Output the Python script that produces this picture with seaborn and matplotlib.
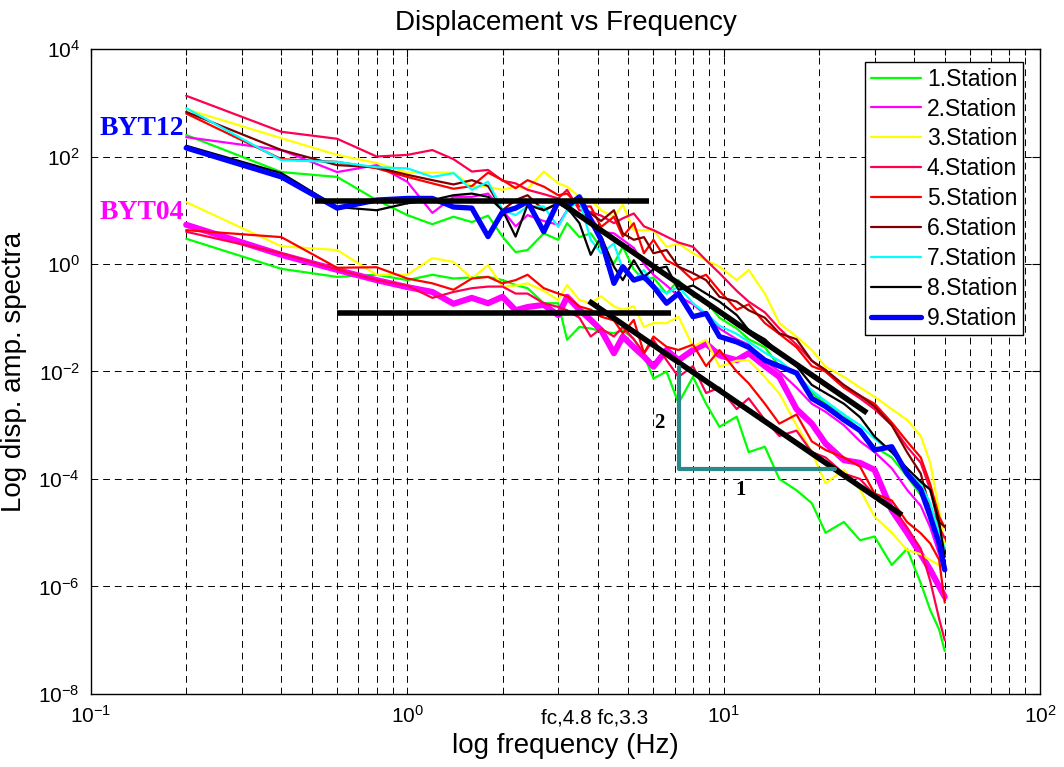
import numpy as np
import matplotlib.pyplot as plt
import seaborn as sns
from matplotlib.ticker import FixedLocator, NullLocator, NullFormatter
import matplotlib.transforms as mtransforms

# frekanslar (Hz)
freq = [0.2, 0.4, 0.6, 0.8, 1.0, 1.2, 1.4, 1.6, 1.8, 2.0, 2.2, 2.4, 2.7, 3.0, 3.2,
        3.5, 3.8, 4.1, 4.5, 4.8, 5.2, 5.6, 6.0, 6.6, 7.2, 8.0, 8.8, 9.7, 11, 12,
        13.5, 15, 17, 19, 21, 24, 27, 30, 34, 38, 42, 45, 48, 50]

# log10 displacement spectra, BYT12 event
byt12_st1 = [2.40, 1.71, 1.62, 1.19, 0.91, 0.74, 0.88, 0.78, 0.90, 0.51, 0.22, 0.26, 0.57, 0.45, 0.76,
             0.50, 0.57, 0.30, 0.01, 0.32, -0.10, -0.30, -0.25, -0.55, -0.30, -0.60, -0.70, -1.00, -1.20, -1.40,
             -1.55, -1.90, -2.05, -2.40, -2.60, -2.80, -3.10, -3.40, -3.60, -3.95, -4.30, -4.50, -5.00, -5.30]
byt12_st2 = [2.36, 2.12, 1.71, 1.84, 1.53, 0.95, 1.25, 1.25, 1.31, 1.00, 0.70, 0.91, 0.80, 0.73, 1.00,
             0.90, 0.88, 0.60, 0.57, 0.45, 0.30, 0.00, -0.20, -0.40, -0.60, -0.75, -0.95, -1.20, -1.40, -1.50,
             -1.80, -2.00, -2.30, -2.60, -2.75, -3.00, -3.30, -3.50, -3.80, -4.20, -4.50, -4.90, -5.40, -5.70]
byt12_st3 = [2.88, 2.34, 2.03, 1.88, 1.70, 1.70, 1.70, 1.44, 1.44, 1.38, 1.44, 1.40, 1.72, 1.50, 1.44,
             1.25, 1.19, 1.00, 0.88, 1.10, 0.63, 0.63, 0.63, 0.32, 0.38, 0.20, 0.07, -0.05, -0.30, -0.11,
             -0.55, -1.10, -1.35, -1.60, -1.91, -2.10, -2.30, -2.47, -2.70, -2.90, -3.20, -3.70, -4.60, -5.20]
byt12_st4 = [3.13, 2.46, 2.33, 2.00, 2.03, 2.12, 1.95, 1.72, 1.75, 1.55, 1.50, 1.38, 1.30, 1.22, 1.38,
             1.00, 0.97, 0.90, 0.76, 0.85, 0.94, 0.70, 0.63, 0.51, 0.40, 0.32, 0.07, -0.17, -0.50, -0.70,
             -0.90, -1.20, -1.50, -1.80, -2.00, -2.30, -2.50, -2.70, -3.00, -3.40, -3.70, -4.20, -4.90, -5.10]
byt12_st5 = [2.80, 1.95, 1.90, 1.78, 1.62, 1.50, 1.40, 1.45, 1.70, 1.56, 1.41, 1.56, 1.44, 1.28, 1.31,
             1.07, 1.07, 0.69, 0.88, 0.51, 0.76, 0.20, 0.45, 0.07, -0.05, -0.30, -0.20, -0.50, -0.85, -0.75,
             -1.10, -1.30, -1.55, -1.90, -2.00, -2.30, -2.45, -2.60, -2.95, -3.30, -3.60, -4.10, -4.70, -4.90]
byt12_st6 = [2.83, 2.12, 1.84, 1.80, 1.66, 1.56, 1.48, 1.56, 1.45, 1.00, 1.19, 1.28, 1.00, 1.13, 1.10,
             0.88, 0.94, 0.80, 1.00, 0.57, 0.45, 0.50, 0.20, 0.26, -0.05, -0.17, -0.30, -0.61, -0.70, -0.86,
             -1.00, -1.29, -1.40, -1.80, -1.97, -2.25, -2.45, -2.65, -3.00, -3.50, -3.90, -4.58, -4.80, -4.89]
byt12_st7 = [2.90, 1.93, 1.90, 1.80, 1.78, 1.62, 1.69, 1.38, 1.53, 1.00, 0.91, 1.07, 1.07, 0.69, 1.00,
             1.19, 0.45, 0.20, 0.38, -0.10, -0.30, -0.11, -0.40, -0.55, -0.42, -0.73, -0.92, -1.15, -1.30, -1.45,
             -1.65, -1.80, -2.05, -2.35, -2.55, -2.80, -3.00, -3.25, -3.50, -3.85, -4.10, -4.45, -5.00, -5.30]
byt12_st8 = [2.20, 1.69, 1.06, 1.00, 1.13, 1.19, 1.28, 1.31, 1.25, 1.00, 0.51, 1.10, 1.00, 1.13, 1.05,
             0.76, 0.17, 0.51, -0.05, -0.30, 0.07, -0.24, -0.10, -0.05, -0.48, -0.40, -0.55, -0.70, -0.95, -1.23,
             -1.40, -1.66, -1.90, -2.25, -2.40, -2.60, -2.85, -3.21, -3.50, -3.80, -4.05, -4.20, -4.80, -5.45]
byt12_st9 = [2.16, 1.62, 1.04, 1.19, 1.22, 1.22, 1.06, 1.04, 0.51, 0.97, 1.04, 1.16, 0.60, 1.16, 1.07,
             1.25, 0.82, 0.45, -0.36, -0.05, -0.30, -0.24, -0.42, -0.73, -0.55, -0.98, -0.92, -1.35, -1.45, -1.55,
             -1.79, -1.90, -2.03, -2.50, -2.65, -2.90, -3.10, -3.46, -3.40, -3.90, -4.20, -4.70, -5.20, -5.69]

# log10 displacement spectra, BYT04 event
byt04_st1 = [0.47, -0.09, -0.24, -0.20, -0.30, -0.20, -0.27, -0.25, -0.24, -0.30, -0.39, -0.45, -0.73, -0.73, -1.41,
             -1.17, -1.20, -1.25, -1.29, -1.23, -1.40, -1.70, -2.13, -2.00, -2.59, -2.10, -2.60, -3.03, -2.84, -3.50,
             -3.40, -4.00, -4.21, -4.45, -5.00, -4.80, -5.14, -5.07, -5.60, -5.30, -5.94, -6.44, -6.80, -7.20]
byt04_st2 = [0.73, 0.17, -0.11, -0.30, -0.43, -0.52, -0.74, -0.63, -0.73, -0.61, -0.86, -0.80, -0.76, -0.95, -0.61,
             -0.85, -1.04, -1.23, -1.66, -1.35, -1.55, -1.72, -1.91, -1.60, -1.79, -1.60, -1.48, -1.70, -1.79, -1.66,
             -1.90, -2.10, -2.70, -2.97, -3.34, -3.65, -3.70, -3.83, -4.58, -5.00, -5.40, -5.69, -6.00, -6.19]
byt04_st3 = [1.15, 0.33, 0.26, -0.20, -0.20, 0.11, 0.04, -0.27, -0.02, -0.42, -0.40, -0.36, -0.50, -0.67, -0.39,
             -0.67, -0.73, -0.60, -0.79, -0.85, -0.79, -1.17, -1.10, -1.10, -0.98, -1.54, -1.41, -1.91, -1.80, -1.79,
             -2.10, -2.41, -3.00, -3.50, -4.08, -3.83, -4.20, -4.70, -5.00, -5.32, -5.40, -5.51, -5.60, -5.70]
byt04_st4 = [0.60, 0.20, -0.10, -0.30, -0.40, -0.63, -0.52, -0.45, -0.42, -0.42, -0.55, -0.55, -0.73, -0.80, -0.86,
             -1.00, -1.35, -1.20, -1.35, -1.17, -1.40, -1.66, -1.41, -1.79, -2.10, -1.90, -2.40, -2.30, -2.70, -2.50,
             -2.90, -3.20, -3.10, -3.50, -3.60, -3.90, -4.00, -4.30, -4.50, -4.90, -5.30, -5.90, -6.60, -7.00]
byt04_st5 = [0.63, 0.50, -0.07, -0.06, -0.27, -0.36, -0.48, -0.27, -0.24, -0.36, -0.30, -0.20, -0.45, -0.55, -0.60,
             -0.79, -0.85, -0.98, -1.05, -1.29, -1.04, -1.66, -1.35, -1.54, -1.60, -1.50, -1.90, -1.60, -2.00, -2.22,
             -2.60, -2.97, -2.80, -3.30, -3.46, -3.60, -3.77, -4.27, -4.40, -4.80, -5.01, -5.20, -5.50, -6.30]

station_names = ["1.Station", "2.Station", "3.Station", "4.Station", "5.Station",
                 "6.Station", "7.Station", "8.Station", "9.Station"]
station_colors = ["#00ff00", "#ff00ff", "#ffff00", "#ff0050", "#ff0000",
                  "#800000", "#00ffff", "#000000", "#0000ff"]

byt12 = [byt12_st1, byt12_st2, byt12_st3, byt12_st4, byt12_st5,
         byt12_st6, byt12_st7, byt12_st8, byt12_st9]
byt04 = [byt04_st1, byt04_st2, byt04_st3, byt04_st4, byt04_st5]

# corner frequency fit lines (Hz, log10 amplitude)
plateau12_f = [0.51, 5.8]
plateau12_a = [1.18, 1.18]
plateau04_f = [0.6, 6.8]
plateau04_a = [-0.91, -0.91]
slope12_f = [3.04, 28.4]
slope12_a = [1.15, -2.77]
slope04_f = [3.75, 36.6]
slope04_a = [-0.69, -4.67]
tri_f = [7.23, 7.23, 22.5]
tri_a = [-1.92, -3.81, -3.81]

sns.set_style("white")
plt.rcParams["font.family"] = ["Liberation Sans", "DejaVu Sans"]
plt.rcParams["mathtext.fontset"] = "custom"
plt.rcParams["mathtext.rm"] = "Liberation Sans"
plt.rcParams["axes.unicode_minus"] = False
for key in ["text.color", "axes.labelcolor", "xtick.color", "ytick.color"]:
    plt.rcParams[key] = "black"

fig = plt.figure(figsize=(10.64, 7.67), dpi=100)
ax = fig.add_axes([0.0855, 0.0952, 0.8919, 0.8409])
ax.set_xscale("log")
ax.set_yscale("log")

# BYT04 once, sonra BYT12
for i, vals in enumerate(byt04):
    lw = 4.4 if i == 1 else 1.6
    sns.lineplot(x=freq, y=10 ** np.array(vals), color=station_colors[i], lw=lw,
                 sort=False, estimator=None, ax=ax)

handles = []
for i, vals in enumerate(byt12):
    lw = 3.8 if i == 8 else 1.6
    sns.lineplot(x=freq, y=10 ** np.array(vals), color=station_colors[i], lw=lw,
                 sort=False, estimator=None, ax=ax)
    handles.append(ax.get_lines()[-1])

# fit lines
for f, a in [(plateau12_f, plateau12_a), (plateau04_f, plateau04_a),
             (slope12_f, slope12_a), (slope04_f, slope04_a)]:
    ax.plot(f, 10 ** np.array(a), color="black", lw=4, solid_capstyle="butt")
ax.plot(tri_f, 10 ** np.array(tri_a), color="#2a8a8a", lw=3)

serif = ["Liberation Serif", "DejaVu Serif"]
ax.text(0.197, 10 ** 2.52, "BYT12", color="#0000ff", fontsize=20, fontweight="bold",
        family=serif, ha="right", va="center")
ax.text(0.197, 10 ** 0.95, "BYT04", color="#ff00ff", fontsize=20, fontweight="bold",
        family=serif, ha="right", va="center")
ax.text(6.25, 10 ** -2.96, "2", fontsize=15, fontweight="bold", family=serif,
        ha="center", va="center")
ax.text(11.3, 10 ** -4.2, "1", fontsize=15, fontweight="bold", family=serif,
        ha="center", va="center")

ax.set_xlim(0.1, 100)
ax.set_ylim(1e-8, 1e4)
ax.xaxis.set_major_locator(FixedLocator([0.1, 1, 10, 100]))
ax.xaxis.set_minor_locator(FixedLocator([m * d for d in [0.1, 1, 10] for m in range(2, 10)]))
ax.xaxis.set_minor_formatter(NullFormatter())
ax.yaxis.set_major_locator(FixedLocator([1e-8, 1e-6, 1e-4, 1e-2, 1, 1e2, 1e4]))
ax.yaxis.set_minor_locator(NullLocator())

dash = (0, (7, 5))
ax.grid(True, which="major", axis="both", color="black", lw=0.7, ls=dash)
ax.grid(True, which="minor", axis="x", color="black", lw=0.7, ls=dash)
ax.tick_params(which="both", direction="in", top=True, right=True, labelsize=15,
               color="black")
ax.tick_params(which="major", length=6, width=0.8, pad=8)
ax.tick_params(which="minor", length=4, width=0.8)
for s in ax.spines.values():
    s.set_color("black")
    s.set_linewidth(1.0)

trans = mtransforms.blended_transform_factory(ax.transData, ax.transAxes)
ax.text(3.92, -0.037, "fc,4.8 fc,3.3", transform=trans, fontsize=15,
        ha="center", va="center")

ax.set_title("Displacement vs Frequency", fontsize=20, pad=14)
ax.set_xlabel("log frequency (Hz)", fontsize=20, labelpad=4)
ax.set_ylabel("Log disp. amp. spectra", fontsize=20, labelpad=8)

leg = ax.legend(handles, station_names, loc="upper right", bbox_to_anchor=(0.982, 0.98),
                borderaxespad=0, fontsize=16.5, frameon=True, fancybox=False,
                edgecolor="black", framealpha=1, labelspacing=0.3, borderpad=0.25,
                handlelength=2.2, handletextpad=0.25)
leg.get_frame().set_linewidth(1.0)

fig.savefig("out.png", dpi=100)
